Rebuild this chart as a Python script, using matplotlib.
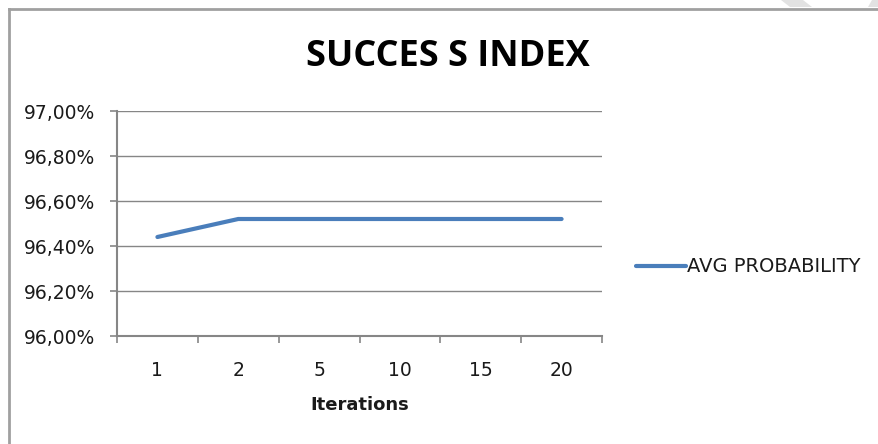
import matplotlib
matplotlib.use("Agg")
import matplotlib.pyplot as plt
from matplotlib.lines import Line2D
from matplotlib.patches import Polygon
from matplotlib.ticker import FuncFormatter, FixedLocator
import numpy as np

categories = ["1", "2", "5", "10", "15", "20"]
avg_probability = [96.44, 96.52, 96.52, 96.52, 96.52, 96.52]
y_ticks = [96.0, 96.2, 96.4, 96.6, 96.8, 97.0]

W, H = 879, 444
fig = plt.figure(figsize=(W / 100, H / 100), dpi=100)
fig.patch.set_facecolor("white")

def fx(px):
    return px / W

def fy(py):
    return 1 - py / H

TXT = "#1a1a1a"
left, right, top, bottom = 117, 602, 111, 336
ax = fig.add_axes([fx(left), fy(bottom), fx(right) - fx(left), fy(top) - fy(bottom)])

x = np.arange(len(categories))
line, = ax.plot(x, avg_probability, color="#4A7EBB", lw=3.0, solid_capstyle="round",
                label="AVG PROBABILITY")

ax.set_xlim(-0.5, len(categories) - 0.5)
ax.set_ylim(96.0, 97.0)
ax.set_yticks(y_ticks)
ax.yaxis.set_major_formatter(FuncFormatter(lambda v, p: f"{v:.2f}".replace(".", ",") + "%"))
ax.grid(axis="y", color="#868686", lw=1.0)
ax.set_axisbelow(True)

ax.set_xticks(x)
ax.set_xticklabels(categories)
ax.xaxis.set_minor_locator(FixedLocator(np.arange(-0.5, len(categories), 1.0)))
ax.tick_params(axis="x", which="major", length=0, pad=18, labelsize=13.5, labelcolor=TXT)
ax.tick_params(axis="x", which="minor", length=5, width=1.2, color="#868686", direction="out")
ax.tick_params(axis="y", length=5, width=1.2, color="#868686", direction="out", pad=10.5,
               labelsize=13.5, labelcolor=TXT)

for s in ["top", "right"]:
    ax.spines[s].set_visible(False)
for s in ["left", "bottom"]:
    ax.spines[s].set_color("#868686")
    ax.spines[s].set_linewidth(1.5)

ax.set_xlabel("Iterations", fontsize=13, fontweight="bold", color=TXT, labelpad=11.5)

fig.text(fx(448), fy(57), "SUCCES S INDEX", ha="center", va="center",
         fontsize=26, fontweight="bold", color="#000000", family="Open Sans")

# legend
leg = fig.legend(handles=[line], loc="center left", bbox_to_anchor=(fx(628), fy(267)),
                 frameon=False, fontsize=14, handlelength=2.6, handletextpad=0.05,
                 borderaxespad=0)
for t in leg.get_texts():
    t.set_color(TXT)

# faint watermark fragments at top edge
fig.add_artist(Polygon([[fx(781), fy(0)], [fx(803), fy(0)], [fx(812), fy(7)], [fx(790), fy(7)]],
                       closed=True, facecolor="#E2E2E2", edgecolor="none", transform=fig.transFigure))
fig.add_artist(Polygon([[fx(872), fy(0)], [fx(879), fy(0)], [fx(879), fy(7)], [fx(868), fy(7)]],
                       closed=True, facecolor="#E2E2E2", edgecolor="none", transform=fig.transFigure))

# chart area border (partially visible)
border_c = "#A0A0A0"
fig.add_artist(Line2D([fx(9), 1.0], [fy(9), fy(9)], color=border_c, lw=2.0, transform=fig.transFigure))
fig.add_artist(Line2D([fx(9), fx(9)], [fy(9), 0.0], color=border_c, lw=2.0, transform=fig.transFigure))

fig.savefig("out.png", dpi=100)
